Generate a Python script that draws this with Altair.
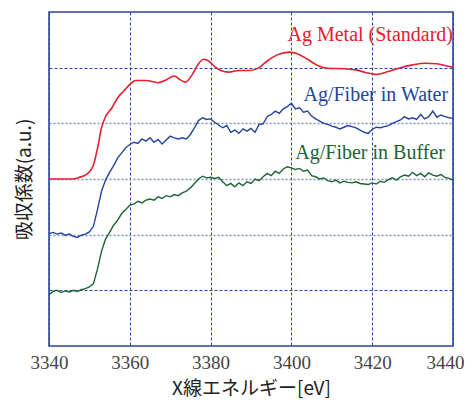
import altair as alt
import pandas as pd

# Ag Metal (Standard) - smooth curve
metal_e = [3340, 3346, 3347.5, 3349, 3350, 3351, 3352, 3353, 3354, 3355.5, 3357, 3358.5,
           3360, 3361.5, 3364, 3367, 3369, 3371, 3372.5, 3373.8, 3375.5, 3377, 3378.3,
           3379.5, 3381, 3382.5, 3384.5, 3387, 3390, 3392, 3394, 3396.5, 3399.5, 3401.5,
           3404, 3406.5, 3409, 3413, 3416, 3418.5, 3421, 3424, 3427, 3430, 3433, 3436,
           3438.5, 3440]
metal_v = [3.00, 3.00, 3.03, 3.07, 3.13, 3.25, 3.55, 3.92, 4.12, 4.27, 4.46, 4.58,
           4.70, 4.77, 4.77, 4.73, 4.78, 4.85, 4.78, 4.74, 4.88, 5.07, 5.15,
           5.12, 5.02, 4.95, 4.92, 4.95, 4.95, 5.00, 5.12, 5.23, 5.28, 5.25,
           5.15, 5.04, 4.99, 4.98, 4.96, 4.91, 4.88, 4.93, 5.00, 5.05, 5.08, 5.07,
           5.03, 5.01]

# noisy spectra, 1 eV steps 3340..3440
energy = list(range(3340, 3441))
water_v = [2.02, 2.04, 2.01, 2.03, 1.99, 2.01, 1.97, 1.95, 1.99, 2.01,
           2.05, 2.15, 2.45, 2.78, 2.98, 3.12, 3.24, 3.38, 3.47, 3.56,
           3.62, 3.66, 3.64, 3.72, 3.68, 3.74, 3.66, 3.71, 3.63, 3.70,
           3.77, 3.74, 3.72, 3.74, 3.72, 3.80, 3.92, 4.05, 4.10, 4.07,
           4.08, 4.02, 3.97, 3.92, 3.96, 3.84, 3.88, 3.82, 3.90, 3.86,
           3.91, 3.84, 3.98, 3.99, 4.12, 4.16, 4.22, 4.18, 4.26, 4.30,
           4.36, 4.26, 4.28, 4.20, 4.22, 4.13, 4.08, 4.04, 4.00, 3.98,
           3.95, 3.93, 3.90, 3.93, 3.96, 3.94, 3.92, 3.88, 3.84, 3.82,
           3.89, 3.93, 3.92, 3.94, 3.96, 4.00, 4.03, 4.06, 4.12, 4.08,
           4.10, 4.07, 4.16, 4.08, 4.12, 4.22, 4.11, 4.15, 4.12, 4.10,
           4.09]
buffer_v = [0.92, 0.98, 1.00, 0.96, 0.99, 0.97, 1.00, 0.98, 1.01, 1.03,
            1.06, 1.12, 1.38, 1.70, 1.92, 2.04, 2.17, 2.26, 2.38, 2.45,
            2.53, 2.55, 2.60, 2.57, 2.62, 2.64, 2.62, 2.68, 2.65, 2.70,
            2.68, 2.72, 2.70, 2.75, 2.78, 2.84, 2.92, 3.00, 3.05, 3.02,
            3.03, 3.01, 3.03, 2.95, 2.88, 2.92, 2.86, 2.93, 2.88, 2.95,
            2.92, 3.00, 2.97, 3.04, 3.10, 3.06, 3.14, 3.10, 3.18, 3.22,
            3.20, 3.17, 3.19, 3.14, 3.16, 3.06, 3.04, 3.00, 3.02, 2.97,
            2.95, 2.98, 2.93, 2.96, 2.94, 2.93, 2.95, 2.92, 2.91, 2.90,
            2.93, 2.91, 2.96, 2.94, 2.99, 3.02, 2.98, 3.04, 3.07, 3.05,
            3.12, 3.06, 3.10, 3.04, 3.11, 3.07, 3.05, 3.08, 3.03, 3.01,
            2.98]

series_names = ["Ag Metal (Standard)", "Ag/Fiber in Water", "Ag/Fiber in Buffer"]
series_colors = ["#e3202e", "#2444a0", "#1d6333"]
label_x = [3440, 3438.8, 3438]
label_y = [5.48, 4.40, 3.36]

x_ticks = [3340, 3360, 3380, 3400, 3420, 3440]
y_grid = [1, 2, 3, 4, 5]

df_metal = pd.DataFrame({"E": metal_e, "v": metal_v, "s": series_names[0]})
df_noisy = pd.concat([
    pd.DataFrame({"E": energy, "v": water_v, "s": series_names[1]}),
    pd.DataFrame({"E": energy, "v": buffer_v, "s": series_names[2]}),
])
df_lab = pd.DataFrame({"E": label_x, "v": label_y, "s": series_names})

color = alt.Color("s:N", scale=alt.Scale(domain=series_names, range=series_colors), legend=None)

x_enc = alt.X("E:Q", scale=alt.Scale(domain=[3340, 3440], nice=False, zero=False),
              axis=alt.Axis(values=x_ticks, format="d", title="X線エネルギー[eV]",
                            labelFlush=False, labelOverlap=False,
                            labelOffset=alt.condition("datum.value == 3440",
                                                      alt.value(-8), alt.value(0))))
y_enc = alt.Y("v:Q", scale=alt.Scale(domain=[0, 6], nice=False),
              axis=alt.Axis(values=y_grid, labels=False, ticks=False, domain=False,
                            title="吸収係数(a.u.)",
                            gridColor=alt.condition("datum.value == 1 || datum.value == 5",
                                                    alt.value("#2a46a0"), alt.value("#7f8fcc")),
                            gridDash=alt.condition("datum.value == 1 || datum.value == 5",
                                                   alt.value([3, 2]), alt.value([2, 2])),
                            gridWidth=alt.condition("datum.value == 1 || datum.value == 5",
                                                    alt.value(1), alt.value(1.6))))

metal = alt.Chart(df_metal).mark_line(strokeWidth=1.6, interpolate="monotone").encode(
    x=x_enc, y=y_enc, color=color)
noisy = alt.Chart(df_noisy).mark_line(strokeWidth=1.4).encode(
    x=x_enc, y=y_enc, color=color, detail="s:N")
labels = alt.Chart(df_lab).mark_text(align="right", baseline="alphabetic",
                                     font="Liberation Serif", fontSize=20).encode(
    x=x_enc, y=y_enc, text="s:N", color=color)

chart = alt.layer(metal, noisy, labels).properties(
    width=404, height=334,
    padding={"left": 7, "top": 4, "right": 0, "bottom": 0},
).configure_view(
    stroke="#2a46a0", strokeWidth=1.6
).configure_axis(
    ticks=False, domain=False, gridOpacity=1,
    titleFont="Noto Sans CJK JP", titleFontSize=19, titleFontWeight="normal",
    titleColor="#222222",
).configure_axisX(
    labelFont="Liberation Serif", labelFontSize=19, labelColor="#444444",
    labelPadding=7, titlePadding=7, labelFlush=False,
    gridColor="#2a46a0", gridDash=[3, 2], gridWidth=1,
).configure_axisY(
    titlePadding=15,
)

chart.save("out.html", embed_options={"renderer": "svg", "actions": False})
